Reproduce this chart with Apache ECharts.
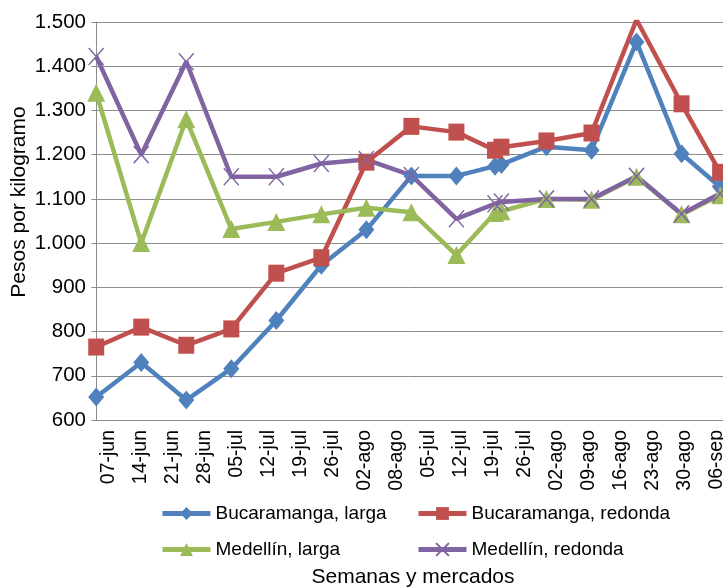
<!DOCTYPE html>
<html>
<head>
<meta charset="utf-8">
<script src="https://cdn.jsdelivr.net/npm/echarts@6/dist/echarts.min.js"></script>
<style>
html,body{margin:0;padding:0;background:#fff;}
#chart{width:723px;height:587px;}
</style>
</head>
<body>
<div id="chart"></div>
<script>
// Axis tick labels (as printed on the chart)
const categoryLabels = ['07-jun','14-jun','21-jun','28-jun','05-jul','12-jul','19-jul','26-jul','02-ago','08-ago',
  '05-jul','12-jul','19-jul','26-jul','02-ago','09-ago','16-ago','23-ago','30-ago','06-sep'];

// Observation dates of the plotted points
const dates = ['2013-06-07','2013-06-14','2013-06-21','2013-06-28','2013-07-05','2013-07-12','2013-07-19','2013-07-26',
  '2013-08-02','2013-08-08','2013-08-09','2013-08-16','2013-08-23','2013-08-30','2013-09-06','2013-09-12'];

const bucaramangaLarga   = [652, 730, 645, 716, 825, 950, 1030, 1152, 1152, 1174, 1178, 1218, 1210, 1455, 1202, 1127];
const bucaramangaRedonda = [765, 810, 769, 806, 932, 967, 1183, 1264, 1251, 1210, 1217, 1231, 1249, 1505, 1315, 1160];
const medellinLarga      = [1340, 1000, 1280, 1032, 1048, 1065, 1080, 1070, 973, 1068, 1072, 1100, 1098, 1150, 1065, 1108];
const medellinRedonda    = [1422, 1200, 1410, 1150, 1150, 1180, 1189, 1153, 1055, 1089, 1093, 1100, 1100, 1151, 1066, 1112];

const seriesNames = ['Bucaramanga, larga', 'Bucaramanga, redonda', 'Medellín, larga', 'Medellín, redonda'];

const t0 = Date.parse(dates[0]);
const dayOffsets = dates.map(d => (Date.parse(d) - t0) / 86400000);
const pts = vals => dayOffsets.map((d, i) => [d, vals[i]]);

const FONT = 'Liberation Sans';
const GRID_COLOR = '#8c8c8c';
const colors = ['#4F81BD', '#C0504D', '#9BBB59', '#8064A2'];

function fmt(v) {
  if (v >= 1000) return Math.floor(v / 1000) + '.' + String(v % 1000).padStart(3, '0');
  return String(v);
}

const chart = echarts.init(document.getElementById('chart'), null, {renderer: 'canvas'});

function mkSeries(idx, vals, symbol, size, extraItem) {
  return {
    name: seriesNames[idx],
    type: 'line',
    xAxisIndex: 1,
    data: pts(vals),
    symbol: symbol,
    symbolSize: size,
    clip: true,
    lineStyle: {color: colors[idx], width: 4.5},
    itemStyle: Object.assign({color: colors[idx], borderWidth: 0}, extraItem || {}),
    emphasis: {disabled: true}
  };
}

const legendBase = {
  orient: 'vertical',
  padding: 0,
  itemWidth: 48,
  itemHeight: 16,
  itemGap: 17,
  lineStyle: {width: 5},
  textStyle: {fontFamily: FONT, fontSize: 19, color: '#000'},
  selectedMode: false
};

chart.setOption({
  animation: false,
  backgroundColor: '#fff',
  grid: {left: 93, top: 22, width: 640, height: 398, containLabel: false, outerBoundsMode: 'none'},
  legend: [
    Object.assign({}, legendBase, {left: 160, top: 504, data: [seriesNames[0], seriesNames[2]]}),
    Object.assign({}, legendBase, {left: 416, top: 504, data: [seriesNames[1], seriesNames[3]]})
  ],
  xAxis: [
    {
      type: 'category',
      data: categoryLabels,
      boundaryGap: true,
      name: 'Semanas y mercados',
      nameLocation: 'middle',
      nameMoveOverlap: false,
      nameGap: 147,
      nameTextStyle: {fontFamily: FONT, fontSize: 21, color: '#000'},
      axisLine: {show: true, lineStyle: {color: GRID_COLOR, width: 1}},
      axisTick: {show: false},
      axisLabel: {interval: 0, rotate: 90, fontFamily: FONT, fontSize: 19.5, color: '#000', margin: 10},
      splitLine: {show: false}
    },
    {
      type: 'value',
      show: false,
      min: -0.5,
      max: 99,
      position: 'bottom',
      splitLine: {show: false}
    }
  ],
  yAxis: {
    type: 'value',
    min: 600,
    max: 1500,
    interval: 100,
    name: 'Pesos por kilogramo',
    nameLocation: 'middle',
    nameMoveOverlap: false,
    nameGap: 63,
    nameTextStyle: {fontFamily: FONT, fontSize: 21, color: '#000', padding: [0, 0, 0, 38]},
    axisLine: {show: true, lineStyle: {color: GRID_COLOR, width: 1}},
    axisTick: {show: true, length: 5, lineStyle: {color: GRID_COLOR}},
    axisLabel: {fontFamily: FONT, fontSize: 20.5, color: '#000', margin: 7, formatter: fmt},
    splitLine: {show: true, lineStyle: {color: GRID_COLOR, width: 1}}
  },
  series: [
    mkSeries(0, bucaramangaLarga, 'diamond', [16, 19]),
    mkSeries(1, bucaramangaRedonda, 'rect', [16, 17]),
    mkSeries(2, medellinLarga, 'triangle', [18, 18]),
    mkSeries(3, medellinRedonda, 'path://M0,0L10,10M10,0L0,10', [15, 17], {borderColor: colors[3], borderWidth: 1.5})
  ]
});
</script>
</body>
</html>
